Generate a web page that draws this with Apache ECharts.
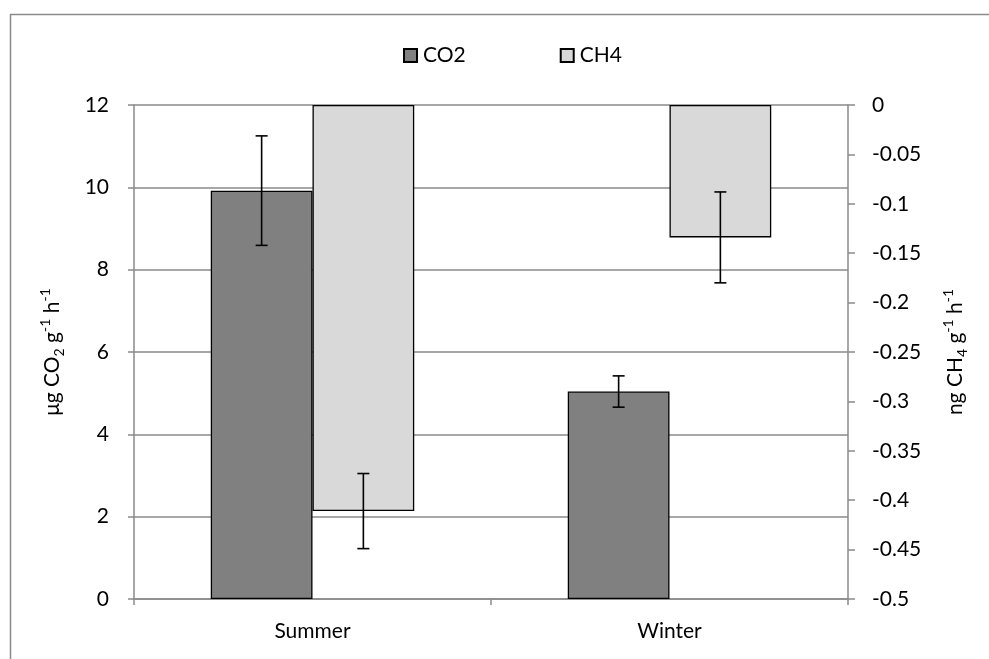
<!DOCTYPE html>
<html>
<head>
<meta charset="utf-8">
<script src="https://cdn.jsdelivr.net/npm/echarts@6/dist/echarts.min.js"></script>
<style>html,body{margin:0;padding:0;background:#fff}#c{width:989px;height:659px}</style>
</head>
<body>
<div id="c"></div>
<script>
const categories = ['Summer', 'Winter'];
const co2Values = [9.92, 5.04];
const co2Errors = [1.33, 0.38];
const ch4Values = [-0.411, -0.134];
const ch4Errors = [0.038, 0.046];
const leftTicks = { min: 0, max: 12, interval: 2 };
const rightTicks = { min: -0.5, max: 0, interval: 0.05 };

const FONT = 'Lato';
const FS = 21;
const BAR_CAT_GAP = 0.43;
const HALF_OFFSET = (1 - BAR_CAT_GAP) / 4; // fraction of band width

function errData(vals, errs) {
  return vals.map((v, i) => [i, v - errs[i], v + errs[i]]);
}
function errRender(sign) {
  return function (params, api) {
    const i = api.value(0);
    const lo = api.coord([i, api.value(1)]);
    const hi = api.coord([i, api.value(2)]);
    const band = api.size([1, 0])[0];
    const x = lo[0] + sign * band * HALF_OFFSET;
    const cap = 6;
    const style = { stroke: '#000', lineWidth: 1.6 };
    return {
      type: 'group',
      children: [
        { type: 'line', shape: { x1: x, y1: lo[1], x2: x, y2: hi[1] }, style },
        { type: 'line', shape: { x1: x - cap, y1: lo[1], x2: x + cap, y2: lo[1] }, style },
        { type: 'line', shape: { x1: x - cap, y1: hi[1], x2: x + cap, y2: hi[1] }, style }
      ]
    };
  };
}

const richName = {
  n: { fontSize: FS, fontFamily: FONT, color: '#000', lineHeight: 28 },
  sub: { fontSize: 14, fontFamily: FONT, color: '#000', verticalAlign: 'bottom', lineHeight: 28 },
  sup: { fontSize: 14, fontFamily: FONT, color: '#000', verticalAlign: 'top', lineHeight: 28 }
};

const chart = echarts.init(document.getElementById('c'), null, { renderer: 'canvas' });
chart.setOption({
  animation: false,
  textStyle: { fontFamily: FONT },
  graphic: [{
    type: 'rect', left: 8, top: 12, shape: { x: 0, y: 0, width: 1100, height: 800 },
    style: { fill: 'none', stroke: '#8a8a8a', lineWidth: 1.5 }, silent: true
  }],
  legend: {
    data: ['CO2', 'CH4'],
    left: 398, top: 40,
    icon: 'rect', itemWidth: 13, itemHeight: 13, itemGap: 94,
    textStyle: { fontSize: FS, fontFamily: FONT, color: '#000', padding: [0, 0, 0, 1] }
  },
  grid: { left: 134, right: 141, top: 105, bottom: 60, containLabel: false },
  xAxis: {
    type: 'category', data: categories,
    axisLine: { lineStyle: { color: '#8a8a8a', width: 1.5 } },
    axisTick: { show: true, length: 6, lineStyle: { color: '#8a8a8a', width: 1.5 } },
    axisLabel: { fontSize: FS, fontFamily: FONT, color: '#000', margin: 22 }
  },
  yAxis: [{
    type: 'value', position: 'left',
    min: leftTicks.min, max: leftTicks.max, interval: leftTicks.interval,
    axisLine: { show: true, lineStyle: { color: '#8a8a8a', width: 1.5 } },
    axisTick: { show: true, length: 6, lineStyle: { color: '#8a8a8a', width: 1.5 } },
    axisLabel: { fontSize: FS, fontFamily: FONT, color: '#000', margin: 25 },
    splitLine: { show: true, lineStyle: { color: '#8a8a8a', width: 1.5 } },
    name: '{n|μg CO}{sub|2}{n| g}{sup|-1}{n| h}{sup|-1}',
    nameLocation: 'middle', nameRotate: 90, nameGap: 68,
    nameTextStyle: { rich: richName }
  }, {
    type: 'value', position: 'right',
    min: rightTicks.min, max: rightTicks.max, interval: rightTicks.interval,
    axisLine: { show: true, lineStyle: { color: '#8a8a8a', width: 1.5 } },
    axisTick: { show: true, length: 7, lineStyle: { color: '#8a8a8a', width: 1.5 } },
    axisLabel: { fontSize: FS, fontFamily: FONT, color: '#000', margin: 24 },
    splitLine: { show: false },
    name: '{n|ng CH}{sub|4}{n| g}{sup|-1}{n| h}{sup|-1}',
    nameLocation: 'middle', nameRotate: 90, nameGap: 93,
    nameTextStyle: { rich: richName }
  }],
  series: [{
    name: 'CO2', type: 'bar', yAxisIndex: 0, data: co2Values,
    barGap: '0%', barCategoryGap: (BAR_CAT_GAP * 100) + '%',
    itemStyle: { color: '#808080', borderColor: '#000', borderWidth: 1.3 }
  }, {
    name: 'CH4', type: 'bar', yAxisIndex: 1, data: ch4Values,
    barGap: '0%', barCategoryGap: (BAR_CAT_GAP * 100) + '%',
    itemStyle: { color: '#d9d9d9', borderColor: '#000', borderWidth: 1.3 }
  }, {
    name: 'CO2 err', type: 'custom', yAxisIndex: 0, z: 5,
    data: errData(co2Values, co2Errors), encode: { x: 0, y: [1, 2] },
    renderItem: errRender(-1)
  }, {
    name: 'CH4 err', type: 'custom', yAxisIndex: 1, z: 5,
    data: errData(ch4Values, ch4Errors), encode: { x: 0, y: [1, 2] },
    renderItem: errRender(1)
  }]
});
</script>
</body>
</html>
